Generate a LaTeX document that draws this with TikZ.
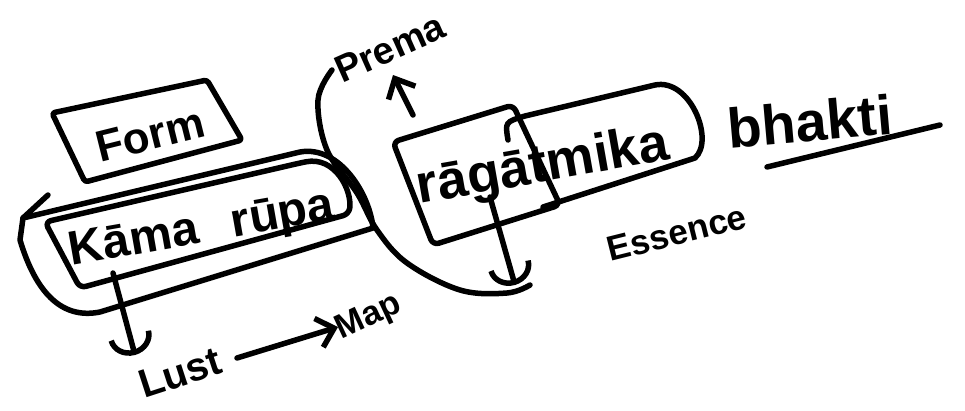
\documentclass[tikz,border=0pt]{standalone}
\usepackage{fontspec}
\setmainfont{Liberation Sans}
\usetikzlibrary{arrows.meta}
\newcommand{\fsz}[1]{\fontsize{#1}{#1}\selectfont}
\begin{document}
\begin{tikzpicture}[x=1pt,y=-1pt,
  ink/.style={line width=5.5pt, line cap=round, line join=round},
  word/.style={inner sep=0pt, font=\bfseries},
  barb/.style={ink,-{Straight Barb[length=16pt,width=30pt]}},
  cupbarb/.style={ink,-{Arc Barb[arc=180,length=20pt,width=44pt]}},
]
\useasboundingbox[fill=white] (0,0) rectangle (965,411);

% "Form" box
\draw[ink, rounded corners=3pt] (52,113) -- (207,80) -- (242,140) -- (85,182) -- cycle;
\node[word, rotate=14, font=\bfseries\fsz{44}] (form) at (150,135) {Form};

% Kama rupa: inner box and the outer loop ending in a barb
\draw[ink, rounded corners=6pt] (45,222) -- (300,163)
  .. controls (335,156) and (352,190) .. (349,214) -- (80,288) -- cycle;
\coordinate (looptip) at (23,218);
\coordinate (loopbarb) at (48,195);
\draw[ink] (looptip) -- (300,152)
  .. controls (340,145) and (370,195) .. (373,228) -- (100,312)
  .. controls (60,320) and (35,290) .. (20,240) -- (looptip);
\draw[ink] (looptip) -- (loopbarb);
\node[word, rotate=10, font=\bfseries\fsz{48}] (kama) at (202,231) {Kāma\hspace{0.7em}rūpa};

% sweeping curve from Prema round the boxes
\draw[ink] plot[smooth, tension=0.6] coordinates
  {(332,70) (318,100) (327,150) (357,193) (377,230) (407,263) (460,290) (507,293) (530,285)};
\node[word, rotate=24, font=\bfseries\fsz{38}] (prema) at (390,48) {Prema};

% raga box and the atmika box behind it
\draw[ink] (508,140) .. controls (505,122) .. (525,116) -- (655,85)
  .. controls (690,78) and (715,140) .. (695,158) -- (543,207);
\draw[ink, rounded corners=6pt] (393,142) -- (513,105) -- (560,205) -- (433,245) -- cycle;
\node[word, rotate=10, font=\bfseries\fsz{54}] (raga) at (543,168) {rāgātmika};

% bhakti, underlined
\node[word, rotate=5, font=\bfseries\fsz{56}] (bhakti) at (810,121) {bhakti};
\coordinate (ulA) at (767,167);
\coordinate (ulB) at (940,125);
\draw[ink] (ulA) -- (ulB);

\node[word, rotate=14, font=\bfseries\fsz{35}] (essence) at (677,233) {Essence};
\node[word, rotate=18, font=\bfseries\fsz{40}] (lust) at (180,373) {Lust};
\node[word, rotate=25, font=\bfseries\fsz{34}] (map) at (369,318) {Map};

% arrows
\coordinate (ragaTop) at (413,115);
\coordinate (premaFoot) at (393,75);
\draw[barb] (ragaTop) -- (premaFoot);

\coordinate (ragaFoot) at (490,197);
\coordinate (ragaDown) at (515,285);
\draw[cupbarb] (ragaFoot) -- (ragaDown);

\coordinate (kamaFoot) at (113,273);
\coordinate (lustTop) at (135,355);
\draw[cupbarb] (kamaFoot) -- (lustTop);

\coordinate (lustEnd) at (237,358);
\coordinate (mapStart) at (338,327);
\draw[barb] (lustEnd) -- (mapStart);
\end{tikzpicture}
\end{document}
